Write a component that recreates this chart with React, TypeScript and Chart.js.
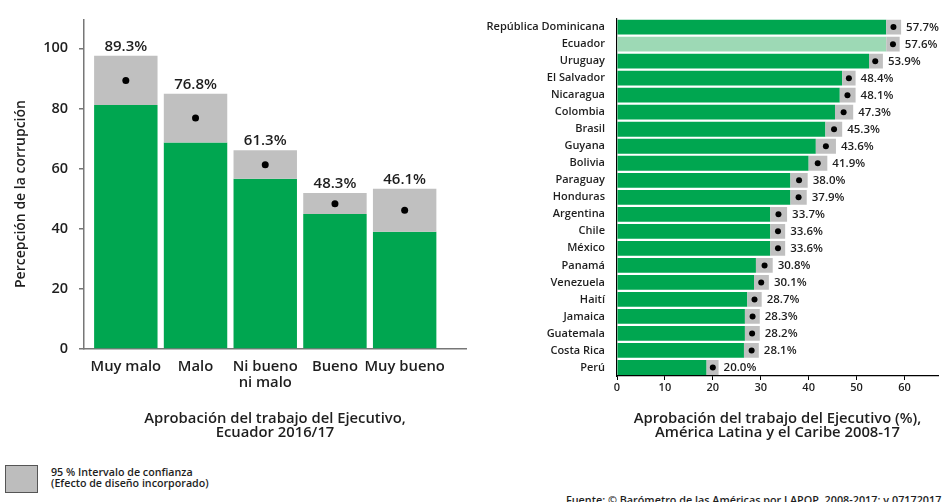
import React, { useEffect, useRef } from "react";
import { Chart, registerables } from "chart.js";

Chart.register(...registerables);

// ---------- Left chart data (Ecuador 2016/17) ----------
const leftCategories: string[][] = [["Muy malo"], ["Malo"], ["Ni bueno", "ni malo"], ["Bueno"], ["Muy bueno"]];
const leftValues = [89.3, 76.8, 61.3, 48.3, 46.1];
const leftLow = [81.1, 68.7, 56.6, 44.9, 39.0];
const leftHigh = [97.5, 84.9, 66.1, 51.9, 53.3];
const leftYTicks = [0, 20, 40, 60, 80, 100];

// ---------- Right chart data (América Latina y el Caribe 2008-17) ----------
const countries = [
  "República Dominicana", "Ecuador", "Uruguay", "El Salvador", "Nicaragua", "Colombia", "Brasil",
  "Guyana", "Bolivia", "Paraguay", "Honduras", "Argentina", "Chile", "México", "Panamá",
  "Venezuela", "Haití", "Jamaica", "Guatemala", "Costa Rica", "Perú",
];
const countryValues = [57.7, 57.6, 53.9, 48.4, 48.1, 47.3, 45.3, 43.6, 41.9, 38.0, 37.9, 33.7, 33.6, 33.6, 30.8, 30.1, 28.7, 28.3, 28.2, 28.1, 20.0];
const countryLow = [56.2, 56.2, 52.6, 47.0, 46.5, 45.5, 43.5, 41.5, 40.0, 36.2, 36.2, 32.0, 32.0, 32.0, 29.0, 28.6, 27.2, 26.7, 26.7, 26.5, 18.7];
const countryHigh = [59.3, 59.0, 55.5, 49.8, 49.8, 49.3, 47.0, 45.7, 43.9, 39.8, 39.6, 35.5, 35.1, 35.1, 32.5, 31.7, 30.2, 29.8, 29.8, 29.6, 21.2];
const rightXTicks = [0, 10, 20, 30, 40, 50, 60];
const highlighted = "Ecuador";

const FONT = "'Open Sans', 'DejaVu Sans', sans-serif";
const GREEN = "#00a650";
const LIGHT_GREEN = "#9dd9b5";
const GRAY = "#c0c0c0";
const TEXT = "#1e1e1e";
const W = "600";

function LeftChart() {
  const ref = useRef<HTMLCanvasElement | null>(null);
  useEffect(() => {
    if (!ref.current) return;
    const labelPlugin = {
      id: "leftLabels",
      afterDatasetsDraw(chart: any) {
        const { ctx, scales } = chart;
        ctx.save();
        ctx.font = `${W} 15px ${FONT}`;
        ctx.fillStyle = TEXT;
        ctx.textAlign = "center";
        ctx.textBaseline = "alphabetic";
        leftValues.forEach((v, i) => {
          const x = scales.x.getPixelForValue(i);
          const y = scales.y.getPixelForValue(leftHigh[i]) - 5;
          ctx.fillText(`${v.toFixed(1)}%`, x, y);
        });
        ctx.restore();
      },
    };
    const chart = new Chart(ref.current, {
      type: "bar",
      data: {
        datasets: [
          {
            type: "line",
            data: leftValues.map((v, i) => ({ x: i, y: v })),
            showLine: false,
            pointRadius: 3.5,
            pointBackgroundColor: "#000",
            pointBorderWidth: 0,
            order: 0,
          } as any,
          {
            type: "bar",
            data: leftLow.map((l, i) => ({ x: i, y: [l, leftHigh[i]] })),
            backgroundColor: GRAY,
            grouped: false,
            barPercentage: 0.91,
            categoryPercentage: 1,
            order: 1,
          } as any,
          {
            type: "bar",
            data: leftLow.map((l, i) => ({ x: i, y: l })),
            backgroundColor: GREEN,
            grouped: false,
            barPercentage: 0.91,
            categoryPercentage: 1,
            order: 2,
          } as any,
        ],
      },
      options: {
        animation: false,
        responsive: false,
        maintainAspectRatio: false,
        layout: { padding: { top: 14, left: 0, right: 0, bottom: 0 } },
        plugins: { legend: { display: false }, tooltip: { enabled: false } },
        scales: {
          x: {
            type: "linear",
            offset: false,
            min: -0.6,
            max: 4.88,
            afterFit: (s: any) => { s.height = 96; },
            afterBuildTicks: (s: any) => { s.ticks = leftCategories.map((_, i) => ({ value: i })); },
            grid: { display: false, drawTicks: false, offset: false },
            border: { display: true, color: "#777", width: 1.5 },
            ticks: {
              autoSkip: false,
              maxRotation: 0,
              padding: 10,
              color: TEXT,
              font: { family: FONT, size: 14.8, weight: W, lineHeight: 1.08 },
              callback: (v: any) => leftCategories[Number(v)] ?? "",
            },
            title: {
              display: true,
              text: ["Aprobación del trabajo del Ejecutivo,", "Ecuador 2016/17"],
              color: TEXT,
              font: { family: FONT, size: 14.8, weight: W, lineHeight: 0.95 },
              padding: { top: 0, bottom: 5 },
            },
          },
          y: {
            type: "linear",
            min: 0,
            max: 109.5,
            afterFit: (s: any) => { s.width = 84; },
            afterBuildTicks: (s: any) => { s.ticks = leftYTicks.map((v) => ({ value: v })); },
            grid: { display: true, drawOnChartArea: false, drawTicks: true, tickLength: 5, color: "#777", lineWidth: 1.5 },
            border: { display: true, color: "#777", width: 1.5 },
            ticks: {
              padding: 11,
              color: TEXT,
              font: { family: FONT, size: 14.5, weight: W },
            },
          },
        },
      } as any,
      plugins: [labelPlugin],
    });
    return () => chart.destroy();
  }, []);
  return <canvas ref={ref} width={470} height={445} style={{ position: "absolute", left: 0, top: 0, width: 470, height: 445 }} />;
}

function RightChart() {
  const ref = useRef<HTMLCanvasElement | null>(null);
  useEffect(() => {
    if (!ref.current) return;
    const labelPlugin = {
      id: "rightLabels",
      afterDatasetsDraw(chart: any) {
        const { ctx, scales } = chart;
        ctx.save();
        ctx.font = `${W} 11.5px ${FONT}`;
        ctx.fillStyle = TEXT;
        ctx.textAlign = "left";
        ctx.textBaseline = "middle";
        countryValues.forEach((v, i) => {
          const x = scales.x.getPixelForValue(countryHigh[i]) + 5;
          const y = scales.y.getPixelForValue(i);
          ctx.fillText(`${v.toFixed(1)}%`, x, y + 0.5);
        });
        ctx.restore();
      },
    };
    const chart = new Chart(ref.current, {
      type: "bar",
      data: {
        labels: countries,
        datasets: [
          {
            type: "line",
            indexAxis: "y",
            data: countryValues,
            showLine: false,
            pointRadius: 3,
            pointBackgroundColor: "#000",
            pointBorderWidth: 0,
            order: 0,
          } as any,
          {
            type: "bar",
            indexAxis: "y",
            data: countryLow.map((l, i) => [l, countryHigh[i]]),
            backgroundColor: GRAY,
            grouped: false,
            barPercentage: 0.87,
            categoryPercentage: 1,
            order: 1,
          } as any,
          {
            type: "bar",
            indexAxis: "y",
            data: countryLow,
            backgroundColor: countries.map((c) => (c === highlighted ? LIGHT_GREEN : GREEN)),
            grouped: false,
            barPercentage: 0.87,
            categoryPercentage: 1,
            order: 2,
          } as any,
        ],
      },
      options: {
        indexAxis: "y",
        animation: false,
        responsive: false,
        maintainAspectRatio: false,
        layout: { padding: { top: 14, left: 0, right: 2, bottom: 0 } },
        plugins: { legend: { display: false }, tooltip: { enabled: false } },
        scales: {
          x: {
            type: "linear",
            offset: false,
            min: 0,
            max: 67,
            afterFit: (s: any) => { s.height = 69; },
            afterBuildTicks: (s: any) => { s.ticks = rightXTicks.map((v) => ({ value: v })); },
            grid: { display: true, drawOnChartArea: false, drawTicks: true, tickLength: 4, color: "#000", lineWidth: 1, offset: false },
            border: { display: true, color: "#000", width: 1.2 },
            ticks: {
              padding: 1,
              maxRotation: 0,
              color: TEXT,
              font: { family: FONT, size: 11, weight: W },
            },
            title: {
              display: true,
              text: ["Aprobación del trabajo del Ejecutivo (%),", "América Latina y el Caribe 2008-17"],
              color: TEXT,
              font: { family: FONT, size: 14.8, weight: W, lineHeight: 0.95 },
              padding: { top: 0, bottom: 5 },
            },
          },
          y: {
            type: "category",
            offset: true,
            afterFit: (s: any) => { s.width = 147; },
            grid: { display: false, drawTicks: false },
            border: { display: true, color: "#000", width: 1.2 },
            ticks: {
              autoSkip: false,
              padding: 12,
              color: TEXT,
              font: { family: FONT, size: 11, weight: W },
            },
          },
        },
      } as any,
      plugins: [labelPlugin],
    });
    return () => chart.destroy();
  }, []);
  return <canvas ref={ref} width={472} height={445} style={{ position: "absolute", left: 470, top: 0, width: 472, height: 445 }} />;
}

export default function App() {
  return (
    <div
      style={{
        position: "fixed",
        left: 0,
        top: 0,
        width: 942,
        height: 502,
        background: "#fff",
        overflow: "hidden",
        fontFamily: FONT,
        color: TEXT,
      }}
    >
      <LeftChart />
      <RightChart />
      <div
        style={{
          position: "absolute",
          left: 19.5 - 110,
          top: 194 - 10,
          width: 220,
          height: 20,
          lineHeight: "20px",
          textAlign: "center",
          fontSize: 14,
          fontWeight: 600,
          transform: "rotate(-90deg)",
          whiteSpace: "nowrap",
        }}
      >
        Percepción de la corrupción
      </div>
      <div
        style={{
          position: "absolute",
          left: 5,
          top: 465,
          width: 33,
          height: 28,
          boxSizing: "border-box",
          border: "1.5px solid #555",
          background: "#bdbdbd",
        }}
      />
      <div
        style={{
          position: "absolute",
          left: 51,
          top: 467,
          fontSize: 10.7,
          fontWeight: 600,
          lineHeight: "10.7px",
          whiteSpace: "nowrap",
        }}
      >
        <div>95 % Intervalo de confianza</div>
        <div>(Efecto de diseño incorporado)</div>
      </div>
      <div
        style={{
          position: "absolute",
          left: 566,
          top: 494,
          fontSize: 10.8,
          fontWeight: 600,
          lineHeight: "12px",
          whiteSpace: "nowrap",
        }}
      >
        Fuente: © Barómetro de las Américas por LAPOP, 2008-2017; v.07172017
      </div>
    </div>
  );
}
